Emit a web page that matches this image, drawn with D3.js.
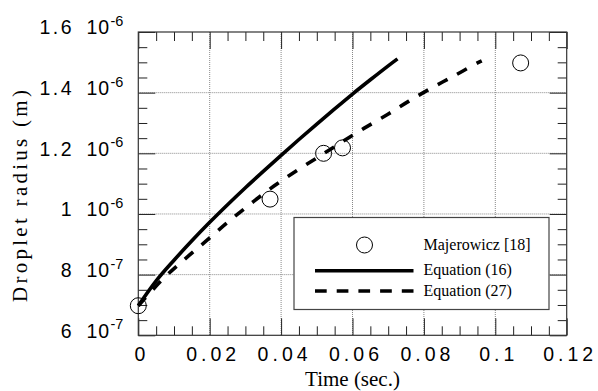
<!DOCTYPE html>
<html>
<head>
<meta charset="utf-8">
<script src="https://cdn.jsdelivr.net/npm/d3@7"></script>
<style>
  body { margin: 0; background: #fff; }
  svg { display: block; }
</style>
</head>
<body>
<div id="chart"></div>
<script>
// Majerowicz measurements (time s, radius m)
const majTime = [0, 0.0369, 0.0519, 0.0572, 0.1071];
const majRadius = [6.975e-7, 1.049e-6, 1.2e-6, 1.218e-6, 1.498e-6];

// Equation (16) curve
const eq16Time = [0, 0.005, 0.01, 0.015, 0.02, 0.025, 0.03, 0.035, 0.04, 0.045, 0.05, 0.055, 0.06, 0.065, 0.07, 0.0726];
const eq16Radius = [6.975e-7, 7.795e-7, 8.475e-7, 9.115e-7, 9.725e-7, 1.0305e-6, 1.0865e-6, 1.1405e-6, 1.1935e-6,
  1.2455e-6, 1.2965e-6, 1.3465e-6, 1.3955e-6, 1.4425e-6, 1.4885e-6, 1.5115e-6];

// Equation (27) curve
const eq27Time = [0, 0.0071, 0.0128, 0.0191, 0.0253, 0.0316, 0.038, 0.0445, 0.051, 0.057, 0.0633, 0.0698, 0.0758, 0.0821, 0.0887, 0.095, 0.0962];
const eq27Radius = [6.975e-7, 7.88e-7, 8.49e-7, 9.12e-7, 9.75e-7, 1.035e-6, 1.092e-6, 1.144e-6, 1.192e-6, 1.237e-6,
  1.283e-6, 1.328e-6, 1.372e-6, 1.415e-6, 1.457e-6, 1.498e-6, 1.505e-6];

const xTicks = [0, 0.02, 0.04, 0.06, 0.08, 0.1, 0.12];
const xTickLabels = ['0', '0.02', '0.04', '0.06', '0.08', '0.1', '0.12'];
const yTicks = [6e-7, 8e-7, 1e-6, 1.2e-6, 1.4e-6, 1.6e-6];
const yMantissa = ['6', '8', '1', '1.2', '1.4', '1.6'];
const yExponent = ['-7', '-7', '-6', '-6', '-6', '-6'];

const legendLabels = ['Majerowicz [18]', 'Equation (16)', 'Equation (27)'];

const width = 598, height = 391;
const margin = { top: 32, right: 31.3, bottom: 55.7, left: 138.3 };
const w = width - margin.left - margin.right;
const h = height - margin.top - margin.bottom;

const serif = '"Liberation Serif", "Times New Roman", Times, serif';
const sans = '"Liberation Sans", Arial, Helvetica, sans-serif';

const svg = d3.select('#chart').append('svg')
  .attr('width', width)
  .attr('height', height);

const g = svg.append('g')
  .attr('transform', `translate(${margin.left},${margin.top})`);

const x = d3.scaleLinear().domain([0, 0.12]).range([0, w]);
const y = d3.scaleLinear().domain([6e-7, 1.6e-6]).range([h, 0]);

// grid
g.append('g').selectAll('line')
  .data(xTicks.slice(1, -1))
  .join('line')
  .attr('x1', d => x(d)).attr('x2', d => x(d))
  .attr('y1', 0).attr('y2', h)
  .attr('stroke', '#888').attr('stroke-width', 1).attr('stroke-dasharray', '1,1');
g.append('g').selectAll('line')
  .data(yTicks.slice(1, -1))
  .join('line')
  .attr('y1', d => y(d)).attr('y2', d => y(d))
  .attr('x1', 0).attr('x2', w)
  .attr('stroke', '#888').attr('stroke-width', 1).attr('stroke-dasharray', '1,1');

// inward ticks on all four sides
const xMinor = d3.range(0, 0.12001, 0.005);
const yMinor = d3.range(6e-7, 1.6001e-6, 5e-8);
const isMajorX = d => xTicks.some(t => Math.abs(t - d) < 1e-9);
const isMajorY = d => yTicks.some(t => Math.abs(t - d) < 1e-12);

g.append('g').call(d3.axisBottom(x).tickValues(xMinor).tickSize(0).tickFormat(''))
  .attr('transform', `translate(0,${h})`)
  .call(a => a.select('.domain').remove())
  .call(a => a.selectAll('.tick line').attr('y2', d => isMajorX(d) ? -17 : -9).attr('stroke', '#222'));
g.append('g').call(d3.axisTop(x).tickValues(xMinor).tickSize(0).tickFormat(''))
  .call(a => a.select('.domain').remove())
  .call(a => a.selectAll('.tick line').attr('y2', d => isMajorX(d) ? 17 : 9).attr('stroke', '#222'));
g.append('g').call(d3.axisLeft(y).tickValues(yMinor).tickSize(0).tickFormat(''))
  .call(a => a.select('.domain').remove())
  .call(a => a.selectAll('.tick line').attr('x2', d => isMajorY(d) ? 17 : 9).attr('stroke', '#222'));
g.append('g').call(d3.axisRight(y).tickValues(yMinor).tickSize(0).tickFormat(''))
  .attr('transform', `translate(${w},0)`)
  .call(a => a.select('.domain').remove())
  .call(a => a.selectAll('.tick line').attr('x2', d => isMajorY(d) ? -17 : -9).attr('stroke', '#222'));

g.append('rect')
  .attr('width', w).attr('height', h)
  .attr('fill', 'none').attr('stroke', '#333').attr('stroke-width', 1.2);

// tick labels
g.append('g').selectAll('text')
  .data(xTicks)
  .join('text')
  .attr('x', d => x(d) + 3.5)
  .attr('y', h + 25.5)
  .attr('text-anchor', 'middle')
  .style('font-family', sans)
  .style('font-size', '19.5px')
  .style('letter-spacing', '4px')
  .text((d, i) => xTickLabels[i]);

const yl = svg.append('g').selectAll('g')
  .data(yTicks)
  .join('g')
  .attr('transform', d => `translate(0,${margin.top + y(d) + 2.3})`)
  .style('font-family', sans);
yl.append('text')
  .attr('x', 74).attr('text-anchor', 'end')
  .style('font-size', '19.5px').style('letter-spacing', '2.5px')
  .text((d, i) => yMantissa[i]);
yl.append('text')
  .attr('x', 86.5)
  .style('font-size', '19.5px').style('letter-spacing', '1px')
  .text('10');
yl.append('text')
  .attr('x', 110.5).attr('y', -8.3)
  .style('font-size', '14.5px')
  .text((d, i) => yExponent[i]);

// axis titles
svg.append('text')
  .attr('x', margin.left + w / 2)
  .attr('y', 386)
  .attr('text-anchor', 'middle')
  .style('font-family', serif)
  .style('font-size', '21px')
  .text('Time (sec.)');
svg.append('text')
  .attr('transform', 'translate(27,196) rotate(-90)')
  .attr('text-anchor', 'middle')
  .attr('textLength', 212)
  .attr('lengthAdjust', 'spacing')
  .style('font-family', serif)
  .style('font-size', '21px')
  .text('Droplet radius (m)');

// curves
const line = d3.line().curve(d3.curveCatmullRom.alpha(0.5)).x(d => x(d[0])).y(d => y(d[1]));
const plot = g.append('g');
plot.append('path')
  .datum(d3.zip(eq16Time, eq16Radius))
  .attr('d', line)
  .attr('fill', 'none').attr('stroke', '#000').attr('stroke-width', 3.6);
plot.append('path')
  .datum(d3.zip(eq27Time, eq27Radius))
  .attr('d', line)
  .attr('fill', 'none').attr('stroke', '#000').attr('stroke-width', 3.6)
  .attr('stroke-dasharray', '11,11');
plot.selectAll('circle')
  .data(d3.zip(majTime, majRadius))
  .join('circle')
  .attr('cx', d => x(d[0])).attr('cy', d => y(d[1]))
  .attr('r', 8)
  .attr('fill', 'none').attr('stroke', '#000').attr('stroke-width', 1);

// legend
const lg = svg.append('g').attr('transform', 'translate(294,217.5)');
lg.append('rect')
  .attr('width', 255).attr('height', 92)
  .attr('fill', '#fff').attr('stroke', '#444').attr('stroke-width', 1.2);
lg.append('circle')
  .attr('cx', 70.5).attr('cy', 27.5).attr('r', 8)
  .attr('fill', 'none').attr('stroke', '#000').attr('stroke-width', 1);
lg.append('line')
  .attr('x1', 21).attr('x2', 119.5).attr('y1', 53.2).attr('y2', 53.2)
  .attr('stroke', '#000').attr('stroke-width', 3.6);
lg.append('line')
  .attr('x1', 21).attr('x2', 119.5).attr('y1', 73.5).attr('y2', 73.5)
  .attr('stroke', '#000').attr('stroke-width', 3.6)
  .attr('stroke-dasharray', '11.7,10');
lg.selectAll('text.lab')
  .data(legendLabels)
  .join('text')
  .attr('class', 'lab')
  .attr('x', 129.5)
  .attr('y', (d, i) => [32, 57.5, 78.2][i])
  .style('font-family', serif)
  .style('font-size', '16px')
  .text(d => d);
</script>
</body>
</html>
